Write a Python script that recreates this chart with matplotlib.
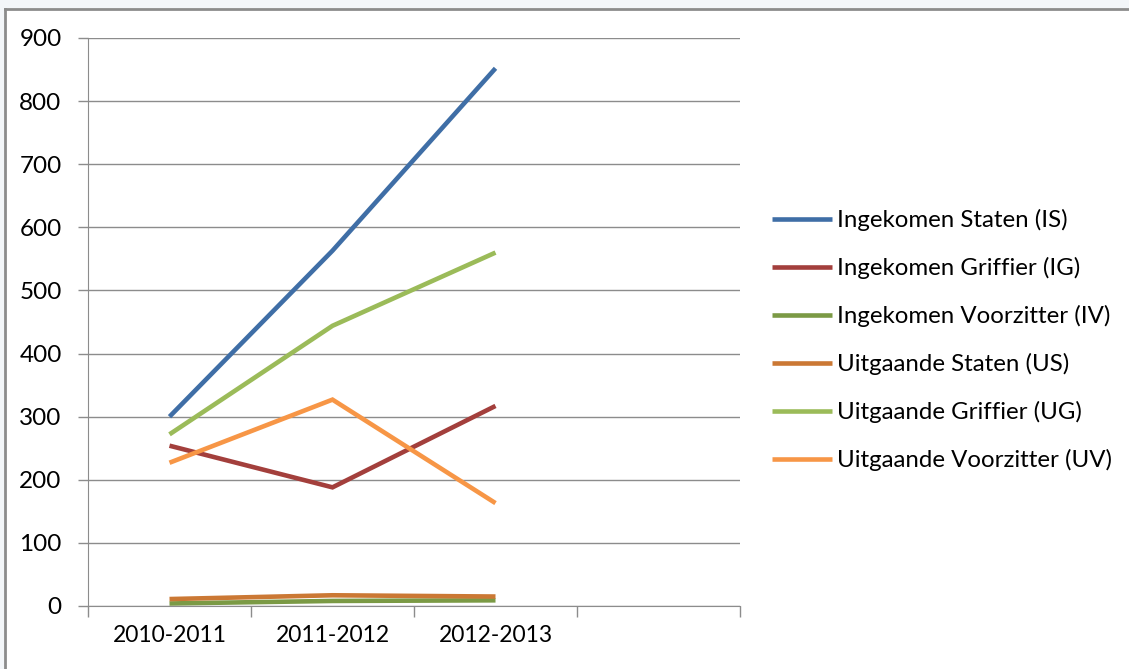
import matplotlib.pyplot as plt
import numpy as np
from matplotlib.lines import Line2D

# Jaren op de x-as (vierde vak blijft leeg)
jaren = ["2010-2011", "2011-2012", "2012-2013"]

ingekomen_staten = [300, 563, 852]
ingekomen_griffier = [254, 188, 317]
ingekomen_voorzitter = [4, 8, 9]
uitgaande_staten = [11, 17, 15]
uitgaande_griffier = [272, 444, 560]
uitgaande_voorzitter = [227, 327, 163]

series = [
    ("Ingekomen Staten (IS)", ingekomen_staten, "#3f6ea6"),
    ("Ingekomen Griffier (IG)", ingekomen_griffier, "#a33f3c"),
    ("Ingekomen Voorzitter (IV)", ingekomen_voorzitter, "#7b9a45"),
    ("Uitgaande Staten (US)", uitgaande_staten, "#cb7834"),
    ("Uitgaande Griffier (UG)", uitgaande_griffier, "#9bbb59"),
    ("Uitgaande Voorzitter (UV)", uitgaande_voorzitter, "#f79646"),
]

plt.rcParams["font.family"] = ["Lato", "DejaVu Sans"]
plt.rcParams["font.size"] = 17

fig = plt.figure(figsize=(11.29, 6.69), dpi=100)
fig.patch.set_facecolor("#f3f6f9")

# witte kaart met grijze rand boven en links
kaart = plt.Rectangle((5 / 1129, 0), 1 - 5 / 1129, 1 - 9 / 669, transform=fig.transFigure,
                      facecolor="white", edgecolor="none", zorder=-2)
fig.patches.append(kaart)
fig.add_artist(Line2D([5 / 1129, 1], [1 - 9 / 669, 1 - 9 / 669], transform=fig.transFigure,
                      color="#8c8c8c", lw=2))
fig.add_artist(Line2D([5 / 1129, 5 / 1129], [0, 1 - 9 / 669], transform=fig.transFigure,
                      color="#8c8c8c", lw=2))

ax = fig.add_axes([88 / 1129, 1 - 606 / 669, (740 - 88) / 1129, (606 - 38) / 669])
ax.set_facecolor("white")

x = np.arange(len(jaren))
for naam, waarden, kleur in series:
    ax.plot(x, waarden, color=kleur, lw=3.3, label=naam, solid_capstyle="butt",
            solid_joinstyle="miter")

ax.set_xlim(-0.5, 3.5)
ax.set_ylim(0, 900)
ax.set_yticks(np.arange(0, 901, 100))
ax.grid(axis="y", color="#8c8c8c", lw=1)
ax.set_axisbelow(True)

ax.set_xticks(x)
ax.set_xticklabels(jaren, fontsize=16.5)
ax.set_xticks(np.arange(-0.5, 3.6, 1), minor=True)
ax.tick_params(axis="x", which="major", length=0, pad=14)
ax.tick_params(axis="x", which="minor", length=8, width=1, color="#8c8c8c")
ax.tick_params(axis="y", length=7, width=1, color="#8c8c8c", pad=12, labelsize=17.5)

for side in ["top", "right"]:
    ax.spines[side].set_visible(False)
for side in ["left", "bottom"]:
    ax.spines[side].set_color("#8c8c8c")

ax.legend(loc="center left", bbox_to_anchor=(772 / 1129, 1 - 340 / 669),
          bbox_transform=fig.transFigure, frameon=False, fontsize=17.3,
          handlelength=2.5, handletextpad=0.2, labelspacing=1.08,
          borderaxespad=0, borderpad=0)

fig.savefig("out.png", dpi=100, facecolor=fig.get_facecolor())
